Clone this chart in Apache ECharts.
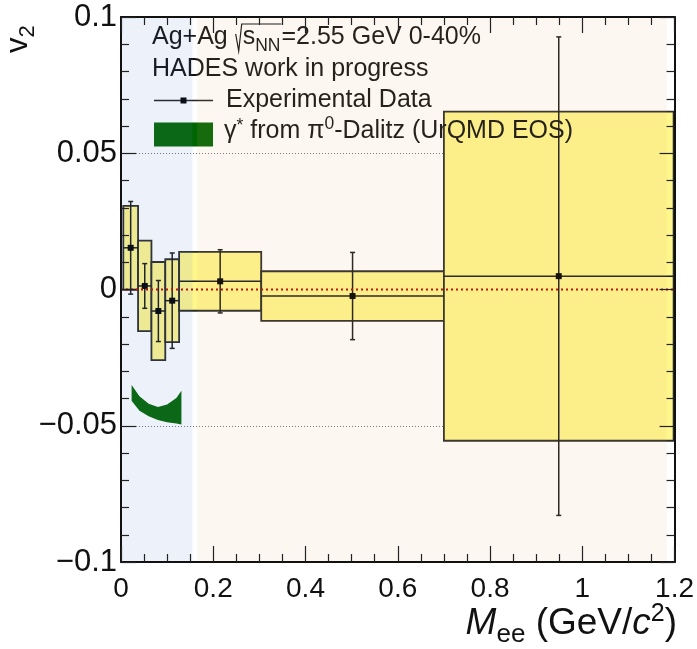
<!DOCTYPE html>
<html>
<head>
<meta charset="utf-8">
<script src="https://cdn.jsdelivr.net/npm/echarts@6/dist/echarts.min.js"></script>
<style>
html,body{margin:0;padding:0;background:#fff;}
#c{width:697px;height:649px;}
</style>
</head>
<body>
<div id="c"></div>
<script>
// ---------------- data ----------------
const xTickValues = [0, 0.2, 0.4, 0.6, 0.8, 1, 1.2];
const xTickLabels = ['0', '0.2', '0.4', '0.6', '0.8', '1', '1.2'];
const yTickValues = [-0.1, -0.05, 0, 0.05, 0.1];
const yTickLabels = ['\u22120.1', '\u22120.05', '0', '0.05', '0.1'];

const massCenter    = [0.021, 0.0515, 0.081, 0.111, 0.215, 0.502, 0.949];
const massHalfWidth = [0.016, 0.0145, 0.015, 0.015, 0.089, 0.198, 0.249];
const v2Value       = [0.0153, 0.0013, -0.0079, -0.0041, 0.0030, -0.0024, 0.0049];
const v2StatErr     = [0.0170, 0.0082, 0.0112, 0.0175, 0.0116, 0.0160, 0.0878];
const v2SysErr      = [0.0154, 0.0166, 0.0180, 0.0152, 0.0108, 0.0091, 0.0604];

const dalitzMass = [0.023, 0.040, 0.060, 0.080, 0.100, 0.120, 0.131];
const dalitzHigh = [-0.0350, -0.0392, -0.0419, -0.0431, -0.0422, -0.0398, -0.0372];
const dalitzLow  = [-0.0408, -0.0445, -0.0465, -0.0479, -0.0487, -0.0492, -0.0495];

const zeroLineX = [0, 1.2];
const zeroLineY = [0, 0];

const regionStart = [0, 0.165];
const regionEnd   = [0.155, 1.183];
const regionColor = ['rgba(95,135,205,0.11)', 'rgba(225,175,115,0.10)'];

// ---------------- helpers ----------------
const FONT = 'Liberation Sans';
const mctx = document.createElement('canvas').getContext('2d');
function measure(t, s, it) {
  mctx.font = (it ? 'italic ' : '') + s + 'px "' + FONT + '"';
  return mctx.measureText(t).width;
}
function richText(x0, base, pieces, z) {
  let x = x0; const els = [];
  pieces.forEach(p => {
    const w = measure(p.t, p.s, p.it);
    els.push({
      type: 'text', x: x, y: base + (p.dy || 0) - 0.35 * p.s, z: z,
      style: { text: p.t, fontSize: p.s, fontFamily: FONT, fontStyle: p.it ? 'italic' : 'normal',
               fill: '#111', align: 'left', verticalAlign: 'middle' }
    });
    x += w;
  });
  return { els: els, end: x };
}
function widthOf(pieces) { return pieces.reduce((a, p) => a + measure(p.t, p.s, p.it), 0); }
function fmt(vals, labels) {
  return function (v) {
    const i = vals.findIndex(t => Math.abs(t - v) < 1e-9);
    return i >= 0 ? labels[i] : '';
  };
}

// ---------------- chart ----------------
const chart = echarts.init(document.getElementById('c'), null, { renderer: 'canvas' });

const LS = 25;
const graphics = [];
// line 1
const l1a = richText(152, 46, [{ t: 'Ag+Ag ', s: LS }], 6);
graphics.push(...l1a.els);
const rx = l1a.end;
const l1b = richText(rx + 8, 46, [{ t: 's', s: LS }, { t: 'NN', s: 17.5, dy: 6 }], 6);
graphics.push(...l1b.els);
graphics.push({ type: 'polyline', z: 6,
  shape: { points: [[rx + 1, 46 - 12], [rx + 4, 46 + 5], [rx + 7, 46 - 22], [l1b.end + 1, 46 - 22]] },
  style: { stroke: '#111', lineWidth: 1.2, fill: null } });
const l1c = richText(l1b.end + 1, 46, [{ t: '=2.55 GeV 0-40%', s: LS }], 6);
graphics.push(...l1c.els);
// line 2
graphics.push(...richText(152, 78, [{ t: 'HADES work in progress', s: LS }], 6).els);
// line 3
graphics.push({ type: 'line', z: 6, shape: { x1: 154, y1: 100.5, x2: 213, y2: 100.5 }, style: { stroke: '#222', lineWidth: 1.3 } });
graphics.push({ type: 'rect', z: 6, shape: { x: 180.5, y: 97.5, width: 6, height: 6 }, style: { fill: '#000' } });
graphics.push(...richText(226, 108.5, [{ t: 'Experimental Data', s: LS }], 6).els);
// line 4
graphics.push({ type: 'rect', z: 6, shape: { x: 154, y: 122.5, width: 59, height: 24 }, style: { fill: '#006400' } });
graphics.push(...richText(224, 140, [
  { t: '\u03B3', s: LS }, { t: '*', s: 17.5, dy: -8 }, { t: ' from ', s: LS },
  { t: '\u03C0', s: LS }, { t: '0', s: 17.5, dy: -10 }, { t: '-Dalitz (UrQMD EOS)', s: LS }
], 6).els);

// x axis title (right aligned)
const xt = [{ t: 'M', s: 37, it: true }, { t: 'ee', s: 26, dy: 7 }, { t: ' (GeV/', s: 37 },
            { t: 'c', s: 37, it: true }, { t: '2', s: 25, dy: -14 }, { t: ')', s: 37 }];
graphics.push(...richText(677 - widthOf(xt), 637, xt, 6).els);
// y axis title (rotated)
const yt = richText(0, 0, [{ t: 'v', s: 31 }, { t: '2', s: 22, dy: 7 }], 6);
graphics.push({ type: 'group', x: 29, y: 53, rotation: Math.PI / 2, z: 6, children: yt.els });

const tickStyle = { color: '#222', width: 1.2 };
const axisLineStyle = { color: '#111', width: 2 };

function xAxisCfg(pos, labels) {
  return {
    type: 'value', position: pos, min: 0, max: 1.2, interval: 0.2, z: 8,
    axisLine: { show: true, onZero: false, lineStyle: axisLineStyle },
    axisTick: { show: true, inside: true, length: 16, lineStyle: tickStyle },
    minorTick: { show: true, splitNumber: 4, length: 8, lineStyle: tickStyle },
    axisLabel: { show: labels, margin: 13, fontSize: 28, fontFamily: FONT, color: '#111',
                 formatter: fmt(xTickValues, xTickLabels) },
    splitLine: { show: false }
  };
}
function yAxisCfg(pos, labels) {
  return {
    type: 'value', position: pos, min: -0.1, max: 0.1, interval: 0.05, z: 8,
    axisLine: { show: true, onZero: false, lineStyle: axisLineStyle },
    axisTick: { show: true, inside: true, length: 15, lineStyle: tickStyle },
    minorTick: { show: true, splitNumber: 5, length: 8, lineStyle: tickStyle },
    axisLabel: { show: labels, margin: 4, fontSize: 31, fontFamily: FONT, color: '#111',
                 formatter: fmt(yTickValues, yTickLabels) },
    splitLine: { show: false }
  };
}

const boxData = massCenter.map((x, i) => [x, v2Value[i], massHalfWidth[i], v2SysErr[i], v2StatErr[i]]);
const regionData = regionStart.map((s, i) => [s, regionEnd[i], i]);

const option = {
  animation: false,
  backgroundColor: '#fff',
  grid: { left: 121, right: 20, top: 17, bottom: 87, containLabel: false },
  xAxis: [xAxisCfg('bottom', true), xAxisCfg('top', false)],
  yAxis: [
    yAxisCfg('left', true),
    yAxisCfg('right', false),
    { type: 'value', position: 'left', min: -0.1, max: 0.1, interval: 0.05, z: 0,
      axisLine: { show: false }, axisTick: { show: false }, axisLabel: { show: false },
      splitLine: { show: true, lineStyle: { color: '#777', width: 1, type: [1, 2] } } }
  ],
  graphic: graphics,
  series: [
    { // systematic boxes
      type: 'custom', z: 2, xAxisIndex: 0, yAxisIndex: 0, data: boxData,
      renderItem: function (params, api) {
        const x = api.value(0), y = api.value(1), hw = api.value(2), sys = api.value(3);
        const p1 = api.coord([x - hw, y + sys]), p2 = api.coord([x + hw, y - sys]);
        return { type: 'rect', shape: { x: p1[0], y: p1[1], width: p2[0] - p1[0], height: p2[1] - p1[1] },
                 style: { fill: '#fff78c', stroke: '#2a2a2a', lineWidth: 1.8 } };
      }
    },
    { // dalitz band
      type: 'custom', z: 3, xAxisIndex: 0, yAxisIndex: 0, data: [[dalitzMass[0], dalitzHigh[0]]],
      renderItem: function (params, api) {
        const pts = [];
        for (let i = 0; i < dalitzMass.length; i++) pts.push(api.coord([dalitzMass[i], dalitzHigh[i]]));
        for (let i = dalitzMass.length - 1; i >= 0; i--) pts.push(api.coord([dalitzMass[i], dalitzLow[i]]));
        return { type: 'polygon', shape: { points: pts }, style: { fill: '#006400' } };
      }
    },
    { // error bars and markers
      type: 'custom', z: 4, xAxisIndex: 0, yAxisIndex: 0, data: boxData,
      renderItem: function (params, api) {
        const x = api.value(0), y = api.value(1), hw = api.value(2), st = api.value(4);
        const c = api.coord([x, y]);
        const l = api.coord([x - hw, y]), r = api.coord([x + hw, y]);
        const t = api.coord([x, y + st]), b = api.coord([x, y - st]);
        const ls = { stroke: '#1a1a1a', lineWidth: 1.5 };
        return { type: 'group', children: [
          { type: 'line', shape: { x1: l[0], y1: l[1], x2: r[0], y2: r[1] }, style: ls },
          { type: 'line', shape: { x1: t[0], y1: t[1], x2: b[0], y2: b[1] }, style: ls },
          { type: 'line', shape: { x1: t[0] - 2.5, y1: t[1], x2: t[0] + 2.5, y2: t[1] }, style: ls },
          { type: 'line', shape: { x1: b[0] - 2.5, y1: b[1], x2: b[0] + 2.5, y2: b[1] }, style: ls },
          { type: 'rect', shape: { x: c[0] - 3, y: c[1] - 3, width: 6, height: 6 }, style: { fill: '#000' } }
        ] };
      }
    },
    { // zero line
      type: 'line', z: 5, xAxisIndex: 0, yAxisIndex: 0, symbol: 'none', silent: true,
      data: zeroLineX.map((x, i) => [x, zeroLineY[i]]),
      lineStyle: { color: '#c00000', width: 2, type: [2, 3] }
    },
    { // shaded regions
      type: 'custom', z: 7, xAxisIndex: 0, yAxisIndex: 0, data: regionData, silent: true,
      renderItem: function (params, api) {
        const p1 = api.coord([api.value(0), 0.1]), p2 = api.coord([api.value(1), -0.1]);
        return { type: 'rect', shape: { x: p1[0], y: p1[1], width: p2[0] - p1[0], height: p2[1] - p1[1] },
                 style: { fill: regionColor[api.value(2)] } };
      }
    }
  ]
};
chart.setOption(option);
</script>
</body>
</html>
